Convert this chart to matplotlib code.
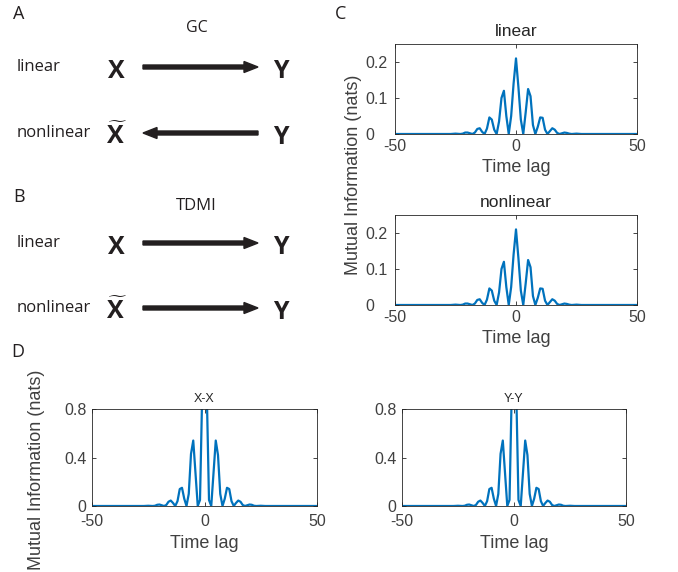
import numpy as np
import matplotlib.pyplot as plt

# ---- data ----
lag = np.arange(-50, 51)

# panel C, time delayed MI between X and Y (lags -27..27, flat zero outside)
mi_c_mid = [0.0, 0.0005, 0.001, 0.0005, 0.0, 0.001, 0.004, 0.004, 0.002, 0.0,
            0.004, 0.014, 0.016, 0.006, 0.0, 0.015, 0.046, 0.04, 0.012, 0.0,
            0.035, 0.10, 0.12, 0.05, 0.0, 0.05, 0.14,
            0.21,
            0.13, 0.04, 0.0, 0.06, 0.125, 0.105, 0.025, 0.0, 0.02, 0.046,
            0.045, 0.012, 0.0, 0.008, 0.016, 0.012, 0.003, 0.0, 0.002, 0.004,
            0.003, 0.001, 0.0, 0.0005, 0.001, 0.0005, 0.0]
mi_linear = [0.0] * 23 + mi_c_mid + [0.0] * 23
mi_nonlinear = [0.0] * 23 + mi_c_mid + [0.0] * 23

# panel D, auto MI (lag 0 is far above the axis limit)
mi_xx_mid = [0.0, 0.001, 0.002, 0.001, 0.0, 0.002, 0.01, 0.012, 0.006, 0.0,
             0.008, 0.035, 0.045, 0.025, 0.0, 0.04, 0.14, 0.15, 0.06, 0.0,
             0.1, 0.43, 0.54, 0.27, 0.0, 0.05, 0.95,
             3.0,
             0.95, 0.05, 0.0, 0.27, 0.54, 0.42, 0.1, 0.0, 0.06, 0.15,
             0.14, 0.04, 0.0, 0.025, 0.045, 0.035, 0.008, 0.0, 0.006, 0.012,
             0.01, 0.002, 0.0, 0.001, 0.002, 0.001, 0.0]
mi_yy_mid = [0.0, 0.001, 0.002, 0.001, 0.0, 0.002, 0.01, 0.012, 0.006, 0.0,
             0.008, 0.035, 0.045, 0.025, 0.0, 0.04, 0.14, 0.15, 0.06, 0.0,
             0.1, 0.43, 0.54, 0.27, 0.0, 0.05, 0.95,
             3.0,
             0.95, 0.05, 0.0, 0.27, 0.54, 0.42, 0.1, 0.0, 0.06, 0.15,
             0.14, 0.04, 0.0, 0.025, 0.045, 0.035, 0.008, 0.0, 0.006, 0.012,
             0.01, 0.002, 0.0, 0.001, 0.002, 0.001, 0.0]
mi_xx = [0.0] * 23 + mi_xx_mid + [0.0] * 23
mi_yy = [0.0] * 23 + mi_yy_mid + [0.0] * 23

blue = '#0072BD'
axcol = '#262626'
W, H = 678, 572

fig = plt.figure(figsize=(6.78, 5.72), dpi=100)
plt.rcParams['font.family'] = ['Liberation Sans', 'DejaVu Sans']
plt.rcParams['mathtext.fontset'] = 'custom'
plt.rcParams['mathtext.rm'] = 'Open Sans'
plt.rcParams['mathtext.bf'] = 'Open Sans:bold'


def px(x0, y_top, w, h):
    # pixel box -> figure fraction
    return [x0 / W, 1 - (y_top + h) / H, w / W, h / H]


def style_ax(ax, ymax, yticks, ylabels, xpad):
    ax.set_xlim(-50, 50)
    ax.set_ylim(0, ymax)
    ax.set_xticks([-50, 0, 50])
    ax.set_xticklabels(['-50', '0', '50'])
    ax.set_yticks(yticks)
    ax.set_yticklabels(ylabels)
    ax.tick_params(direction='in', top=True, right=True, length=3, width=0.6,
                   labelsize=11.5, colors=axcol, labelcolor='#404040', pad=4)
    ax.tick_params(axis='x', pad=xpad)
    for s in ax.spines.values():
        s.set_color(axcol)
        s.set_linewidth(0.6)


# ---- panel C ----
ax1 = fig.add_axes(px(395, 44, 242, 90))
ax1.plot(lag, mi_linear, color=blue, lw=1.6)
style_ax(ax1, 0.25, [0, 0.1, 0.2], ['0', '0.1', '0.2'], 3.5)
ax1.set_title('linear', fontsize=12.5, color='#262626', pad=6)
ax1.set_xlabel('Time lag', fontsize=13, color='#404040', labelpad=3.5)

ax2 = fig.add_axes(px(395, 215, 242, 90))
ax2.plot(lag, mi_nonlinear, color=blue, lw=1.6)
style_ax(ax2, 0.25, [0, 0.1, 0.2], ['0', '0.1', '0.2'], 3.5)
ax2.set_title('nonlinear', fontsize=12.5, color='#262626', pad=6)
ax2.set_xlabel('Time lag', fontsize=13, color='#404040', labelpad=3.5)

# in panel C the y tick labels are left aligned
for a in (ax1, ax2):
    a.tick_params(axis='y', pad=21.6)
    for t in a.get_yticklabels():
        t.set_ha('left')

fig.text(354 / W, 1 - 175 / H, 'Mutual Information (nats)', rotation=90,
         ha='center', va='center', fontsize=13, color='#404040')

# ---- panel D ----
ax3 = fig.add_axes(px(92, 409, 225, 97))
ax3.plot(lag, mi_xx, color=blue, lw=1.6)
style_ax(ax3, 0.8, [0, 0.4, 0.8], ['0', '0.4', '0.8'], 6)
ax3.set_title('X-X', fontsize=9, color='#262626', pad=5)
ax3.set_xlabel('Time lag', fontsize=13, color='#404040', labelpad=4)

ax4 = fig.add_axes(px(402, 409, 224, 97))
ax4.plot(lag, mi_yy, color=blue, lw=1.6)
style_ax(ax4, 0.8, [0, 0.4, 0.8], ['0', '0.4', '0.8'], 6)
ax4.set_title('Y-Y', fontsize=9, color='#262626', pad=5)
ax4.set_xlabel('Time lag', fontsize=13, color='#404040', labelpad=4)

fig.text(37 / W, 1 - 470 / H, 'Mutual Information (nats)', rotation=90,
         ha='center', va='center', fontsize=13, color='#404040')

# ---- panels A and B: diagrams drawn in pixel coordinates ----
ov = fig.add_axes([0, 0, 1, 1], zorder=-1)
ov.set_xlim(0, W)
ov.set_ylim(H, 0)
ov.axis('off')

dfont = ['Open Sans', 'DejaVu Sans']
ink = '#231f20'

for letter, (x, y) in {'A': (19, 14), 'B': (19, 197), 'C': (341, 14), 'D': (18, 352)}.items():
    ov.text(x, y, letter, fontsize=13, ha='center', va='center', family=dfont, color=ink)

ov.text(197, 28, 'GC', fontsize=11.5, ha='center', va='center', family=dfont, color=ink)
ov.text(196, 206, 'TDMI', fontsize=12, ha='center', va='center', family=dfont, color=ink)

rows = [(67, 'linear', False, 'right'),
        (133, 'nonlinear', True, 'left'),
        (243, 'linear', False, 'right'),
        (308, 'nonlinear', True, 'right')]
for y, name, tilde, direction in rows:
    ov.text(17, y, name, fontsize=12, ha='left', va='center', family=dfont, color=ink)
    if tilde:
        ov.text(116, y + 11, r'$\widetilde{\mathbf{X}}$', fontsize=18, ha='center',
                va='baseline', color=ink)
    else:
        ov.text(116, y + 11, 'X', fontsize=18, fontweight='bold', ha='center',
                va='baseline', family=dfont, color=ink)
    ov.text(281, y + 11, 'Y', fontsize=18, fontweight='bold', ha='center', va='baseline',
            family=dfont, color=ink)
    if direction == 'right':
        ov.arrow(143, y, 115, 0, width=4, head_width=11, head_length=14,
                 length_includes_head=True, color=ink)
    else:
        ov.arrow(258, y, -115, 0, width=4, head_width=11, head_length=14,
                 length_includes_head=True, color=ink)

fig.savefig('out.png', dpi=100)
